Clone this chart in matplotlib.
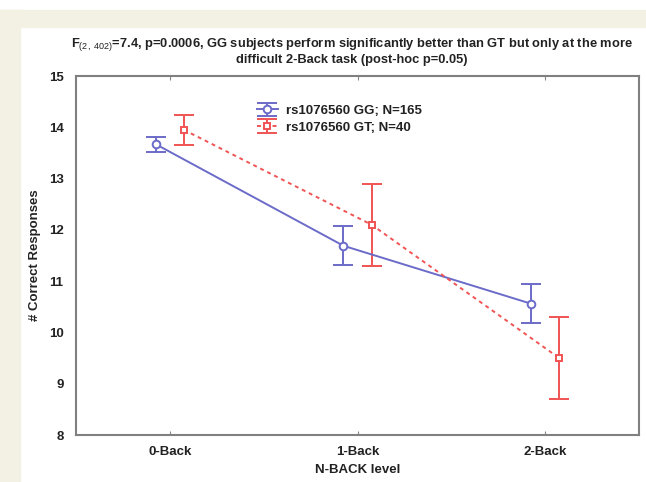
import matplotlib
matplotlib.use("Agg")
import matplotlib.pyplot as plt
from matplotlib.patches import Rectangle
import numpy as np

plt.rcParams['font.family'] = ['Liberation Sans', 'DejaVu Sans']
plt.rcParams['mathtext.fontset'] = 'custom'
plt.rcParams['mathtext.rm'] = 'Liberation Sans'
plt.rcParams['mathtext.it'] = 'Liberation Sans'

categories = ["0-Back", "1-Back", "2-Back"]
gg_mean = [13.67, 11.69, 10.56]
gg_err = [0.15, 0.38, 0.38]
gt_mean = [13.95, 12.10, 9.50]
gt_err = [0.29, 0.80, 0.80]
gg_label = "rs1076560 GG; N=165"
gt_label = "rs1076560 GT; N=40"
title = ("F$_{(2,\\ 402)}$=7.4, p=0.0006, GG subjects perform significantly better than GT but only at the more\n"
         "difficult 2-Back task (post-hoc p=0.05)")

W, H = 646, 482
fig = plt.figure(figsize=(W/100, H/100), dpi=100)
fig.patch.set_facecolor('white')
beige = '#f3f0e4'
fig.patches.append(Rectangle((0, 0), 20/W, 1 - 10/H, transform=fig.transFigure, color=beige, zorder=0))
fig.patches.append(Rectangle((0, 1 - 27/H), 1, 17/H, transform=fig.transFigure, color=beige, zorder=0))

ax = fig.add_axes([76/W, 1 - 435/H, (639-76)/W, (435-76)/H])
x = np.arange(len(categories))
blue = '#6b6bc9'
red = '#f05454'
off = 0.075

ax.errorbar(x - off, gg_mean, yerr=gg_err, color=blue, lw=1.4, capsize=7, capthick=1.4,
            marker='o', ms=5.5, mfc='white', mec=blue, mew=1.4, label=gg_label, zorder=3)
ax.errorbar(x + off, gt_mean, yerr=gt_err, color=red, lw=1.4, ls=(0, (2, 2)), capsize=7, capthick=1.4,
            marker='s', ms=5, mfc='white', mec=red, mew=1.4, label=gt_label, zorder=3)

fs = 9.5
ax.set_xlim(-0.5, 2.5)
ax.set_ylim(8, 15)
ax.set_xticks(x)
ax.set_xticklabels(categories, fontsize=fs, fontweight='bold', color='#222222')
ax.set_yticks(range(8, 16))
ax.set_yticklabels([str(v) for v in range(8, 16)], fontsize=fs, fontweight='bold', color='#222222')
ax.tick_params(axis='x', direction='in', length=3, top=True, color='#888888', pad=8)
ax.tick_params(axis='y', length=0, pad=9)
for s in ax.spines.values():
    s.set_color('#808080')
    s.set_linewidth(1.5)

ax.set_xlabel("N-BACK level", fontsize=fs, fontweight='bold', color='#222222', labelpad=4)
fig.text(35/W, 1 - 255/H, "# Correct Responses", rotation=90, ha='center', va='center',
         fontsize=fs, fontweight='bold', color='#222222')
fig.text(352/W, 1 - 51/H, title, ha='center', va='center', fontsize=9.3, fontweight='bold',
         color='#222222', linespacing=1.2)

leg = ax.legend(loc='upper left', bbox_to_anchor=((250-76)/563, (435-98)/359), frameon=False,
                handlelength=1.6, handletextpad=0.6, borderpad=0, labelspacing=0.35,
                prop={'weight': 'bold', 'size': fs})
for t in leg.get_texts():
    t.set_color('#222222')

fig.savefig('out.png', dpi=100)
